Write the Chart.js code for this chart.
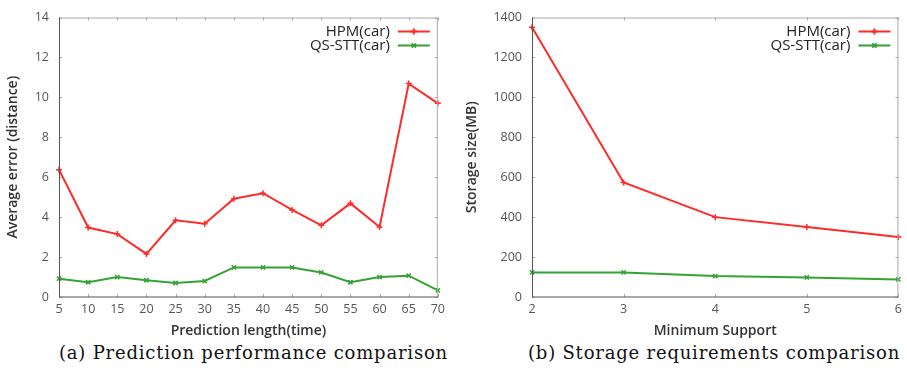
<!DOCTYPE html>
<html>
<head>
<meta charset="utf-8">
<script src="https://cdn.jsdelivr.net/npm/chart.js@4.4.1/dist/chart.umd.min.js"></script>
<style>
    body { margin: 0; background: #fff; width: 907px; height: 371px; position: relative; overflow: hidden; }
    .box { position: absolute; top: 0; height: 340px; }
    .caption { position: absolute; top: 342px; font-family: "DejaVu Serif", serif; font-size: 18px; letter-spacing: 0.8px; color: #111; white-space: nowrap; }
</style>
</head>
<body>
<div class="box" style="left:0; width:450px;"><canvas id="errorChart" width="450" height="340"></canvas></div>
<div class="box" style="left:450px; width:457px;"><canvas id="storageChart" width="457" height="340"></canvas></div>
<div class="caption" style="left:59px;">(a) Prediction performance comparison</div>
<div class="caption" style="left:528px;">(b) Storage requirements comparison</div>
<script>
const predictionLengths = [5, 10, 15, 20, 25, 30, 35, 40, 45, 50, 55, 60, 65, 70];
const hpmError = [6.38, 3.48, 3.15, 2.16, 3.84, 3.67, 4.92, 5.2, 4.36, 3.59, 4.69, 3.51, 10.69, 9.7];
const qsSttError = [0.92, 0.74, 1.0, 0.84, 0.7, 0.8, 1.48, 1.48, 1.48, 1.23, 0.74, 1.0, 1.07, 0.33];

const minSupport = [2, 3, 4, 5, 6];
const hpmStorage = [1351, 574, 400, 351, 300];
const qsSttStorage = [123, 123, 105, 98, 88];

const seriesNames = ['HPM(car)', 'QS-STT(car)'];
const RED = '#ff2a2a';
const GREEN = '#35a235';

// box frame with inward ticks on all four sides, like gnuplot
const frameTicks = {
    id: 'frameTicks',
    afterDraw(chart) {
        const { ctx, chartArea: a, scales } = chart;
        const len = 3;
        ctx.save();
        ctx.lineWidth = 1;
        ctx.strokeStyle = '#aaa';
        ctx.beginPath();
        ctx.moveTo(a.left, a.top + 0.5); ctx.lineTo(a.right, a.top + 0.5);
        ctx.moveTo(a.right - 0.5, a.top); ctx.lineTo(a.right - 0.5, a.bottom);
        scales.x.ticks.forEach((t, i) => {
            const x = Math.round(scales.x.getPixelForTick(i)) + 0.5;
            ctx.moveTo(x, a.top); ctx.lineTo(x, a.top + len);
            ctx.moveTo(x, a.bottom); ctx.lineTo(x, a.bottom - len);
        });
        scales.y.ticks.forEach((t, i) => {
            const y = Math.round(scales.y.getPixelForTick(i)) + 0.5;
            ctx.moveTo(a.left, y); ctx.lineTo(a.left + len, y);
            ctx.moveTo(a.right, y); ctx.lineTo(a.right - len, y);
        });
        ctx.stroke();
        ctx.strokeStyle = '#555';
        ctx.beginPath();
        ctx.moveTo(a.left + 0.5, a.top); ctx.lineTo(a.left + 0.5, a.bottom);
        ctx.lineTo(a.right, a.bottom);
        ctx.stroke();
        ctx.restore();
    }
};

// legend inside the top right corner: text, then line sample with marker
const innerLegend = {
    id: 'innerLegend',
    afterDraw(chart) {
        const { ctx, chartArea: a } = chart;
        ctx.save();
        ctx.font = '15px "Open Sans"';
        ctx.textAlign = 'right';
        ctx.textBaseline = 'middle';
        chart.data.datasets.forEach((ds, i) => {
            const y = a.top + 14 + i * 14;
            ctx.fillStyle = '#222';
            ctx.fillText(ds.label, a.right - 48, y);
            ctx.strokeStyle = ds.borderColor;
            ctx.lineWidth = 2;
            ctx.beginPath();
            ctx.moveTo(a.right - 40, y); ctx.lineTo(a.right - 8, y);
            ctx.stroke();
            Chart.helpers.drawPoint(ctx, {
                pointStyle: ds.pointStyle, radius: 3, borderWidth: 1.5, rotation: 0
            }, a.right - 24, y);
        });
        ctx.restore();
    }
};

function makeChart(id, labels, a, b, yMax, yStep, xTitle, yTitle, yWidth, padRight, titlePad) {
    const dataset = (label, data, color, style) => ({
        label: label,
        data: data,
        borderColor: color,
        backgroundColor: color,
        borderWidth: 2,
        pointStyle: style,
        pointRadius: 3,
        pointBorderWidth: 1.5,
        tension: 0
    });
    const tickFont = { family: 'Open Sans', size: 12.5 };
    const titleFont = { family: 'Open Sans', size: 14, weight: '600' };
    return new Chart(document.getElementById(id), {
        type: 'line',
        data: {
            labels: labels,
            datasets: [
                dataset(seriesNames[0], a, RED, 'cross'),
                dataset(seriesNames[1], b, GREEN, 'crossRot')
            ]
        },
        options: {
            responsive: false,
            animation: false,
            layout: { padding: { left: 0, right: padRight, top: 13, bottom: 0 } },
            plugins: { legend: { display: false }, tooltip: { enabled: false } },
            scales: {
                x: {
                    offset: false,
                    grid: { display: false, drawTicks: false },
                    border: { display: false },
                    ticks: { color: '#555', font: tickFont, padding: 5, maxRotation: 0 },
                    title: { display: true, text: xTitle, color: '#333', font: titleFont, padding: { top: 0, bottom: 1 } },
                    afterFit: s => { s.height = 43; }
                },
                y: {
                    min: 0, max: yMax,
                    grid: { display: false, drawTicks: false },
                    border: { display: false },
                    ticks: { stepSize: yStep, color: '#555', font: tickFont, padding: 10, callback: v => String(v) },
                    title: { display: true, text: yTitle, color: '#333', font: titleFont, padding: { top: titlePad, bottom: 0 } },
                    afterFit: s => { s.width = yWidth; }
                }
            }
        },
        plugins: [frameTicks, innerLegend]
    });
}

makeChart('errorChart', predictionLengths, hpmError, qsSttError, 14, 2,
    'Prediction length(time)', 'Average error (distance)', 59, 9, 5);
makeChart('storageChart', minSupport, hpmStorage, qsSttStorage, 1400, 200,
    'Minimum Support', 'Storage size(MB)', 82, 8, 14);
</script>
</body>
</html>
